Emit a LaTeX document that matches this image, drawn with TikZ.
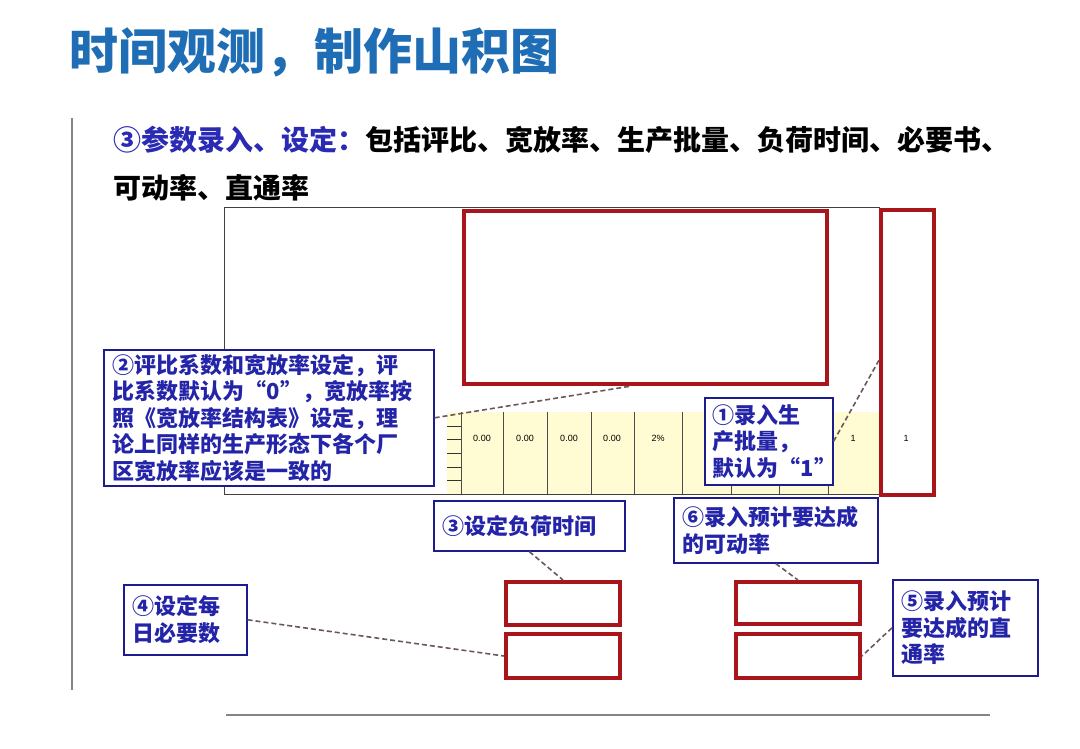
\documentclass[tikz,border=0pt]{standalone}
\usepackage{fontspec}
\usepackage{xcolor}
\newfontfamily\cjk{Noto Sans CJK SC}
\newfontfamily\arial{Liberation Sans}
\definecolor{titleblue}{HTML}{1F6DB4}
\definecolor{headblue}{HTML}{2A2AB5}
\definecolor{calltext}{HTML}{2424A8}
\definecolor{callborder}{HTML}{1C1C8C}
\definecolor{boxred}{HTML}{A8161C}
\definecolor{cellyellow}{HTML}{FFFBD2}
\definecolor{dashgray}{HTML}{6A5858}
\definecolor{linegray}{HTML}{80868A}

\begin{document}
\begin{tikzpicture}[x=1pt,y=-1pt,
    redbox/.style={draw=boxred, line width=4pt, anchor=north west},
    callout/.style={draw=callborder, line width=1.6pt, fill=white, text=calltext,
      font=\cjk\bfseries\fontsize{22}{26.5}\selectfont, align=left,
      inner xsep=9pt, inner ysep=2pt, anchor=north west},
    link/.style={draw=dashgray, dash pattern=on 5pt off 3pt, line width=1.6pt},
    cell/.style={font=\arial\fontsize{9}{10}\selectfont}]
      \useasboundingbox (0,0) rectangle (1080,748);
      % title and heading
      \node [anchor=west, text=titleblue, font=\cjk\bfseries\fontsize{49}{52}\selectfont] (T) at (66,52) {时间观测，制作山积图};
      \node [anchor=west, font=\cjk\bfseries\fontsize{28}{30}\selectfont] (L1) at (110,140) {{\color{headblue}③参数录入、设定：}包括评比、宽放率、生产批量、负荷时间、必要书、};
      \node [anchor=west, font=\cjk\bfseries\fontsize{28}{30}\selectfont] (L2) at (110,188) {可动率、直通率};
      \draw [linegray, line width=1.5pt] (72,118) -- (72,690);
      \draw [linegray, line width=1.5pt] (226,715) -- (990,715);
      % sheet
      \fill [cellyellow] (447,412) rectangle (880,494);
      \draw [black!75, line width=1pt] (224,494) -- (224,207) -- (880,207);
      \draw [black!75, line width=1pt] (224,494) -- (932,494);
      \foreach \x in {461,503,547,591,634,682,731,779,828,880}
        \draw [black!70, line width=0.8pt] (\x,412) -- (\x,494);
      \foreach \y in {426,439,453,467,480}
        \draw [black!80, line width=0.8pt] (447,\y) -- (461,\y);
      \node [cell] (c1) at (482,438) {0.00};
      \node [cell] (c2) at (525,438) {0.00};
      \node [cell] (c3) at (569,438) {0.00};
      \node [cell] (c4) at (612,438) {0.00};
      \node [cell] (c5) at (658,438) {2\%};
      \node [cell] (c6) at (853,438) {1};
      \node [cell] (c7) at (906,438) {1};
      % red frames
      \node [redbox, minimum width=363pt, minimum height=173pt] (hdr) at (462,209) {};
      \node [redbox, minimum width=53pt, minimum height=285pt] (lot) at (879,208) {};
      \node [redbox, minimum width=114pt, minimum height=43pt] (load) at (504,580) {};
      \node [redbox, minimum width=114pt, minimum height=44pt] (need) at (504,632) {};
      \node [redbox, minimum width=124pt, minimum height=42pt] (avail) at (734,580) {};
      \node [redbox, minimum width=124pt, minimum height=44pt] (yield) at (734,632) {};
      % callouts
      \node [callout, text width=312pt, minimum height=136pt] (nrate) at (103,349)
        {②评比系数和宽放率设定，评\\比系数默认为“0”，宽放率按\\照《宽放率结构表》设定，理\\论上同样的生产形态下各个厂\\区宽放率应该是一致的};
      \node [callout, text width=112pt, minimum height=87pt, inner xsep=8pt] (nlot) at (704,397)
        {①录入生\\产批量，\\默认为“1”};
      \node [callout, text width=173pt, minimum height=50pt] (nload) at (433,500) {③设定负荷时间};
      \node [callout, text width=186pt, minimum height=65pt] (navail) at (673,497) {⑥录入预计要达成\\的可动率};
      \node [callout, text width=105pt, minimum height=70pt] (nneed) at (123,584) {④设定每\\日必要数};
      \node [callout, text width=127pt, minimum height=96pt] (nyield) at (892,579) {⑤录入预计\\要达成的直\\通率};
      % dashed leaders
      \draw [link] (nrate.east) -- (hdr.261);
      \draw [link] (nlot.east) -- (lot.195);
      \draw [link] (nload.south) -- (load.north);
      \draw [link] (navail.south) -- (avail.north);
      \draw [link] (nneed.east) -- (need.west);
      \draw [link] (nyield.west) -- (yield.east);
\end{tikzpicture}
\end{document}
